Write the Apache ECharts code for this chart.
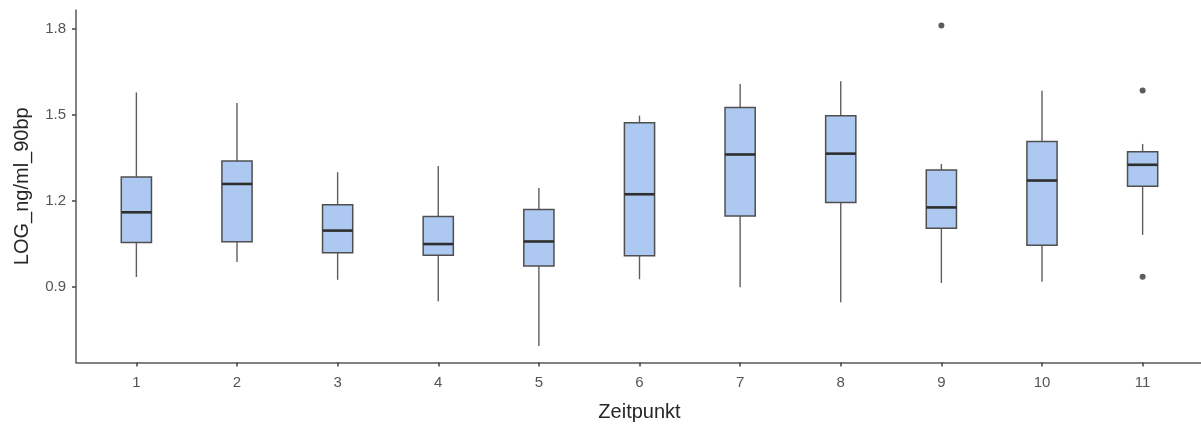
<!DOCTYPE html>
<html>
<head>
<meta charset="utf-8">
<script src="https://cdn.jsdelivr.net/npm/echarts@6/dist/echarts.min.js"></script>
<style>
  html, body { margin: 0; padding: 0; background: #fff; }
  #chart { width: 1201px; height: 424px; }
</style>
</head>
<body>
<div id="chart"></div>
<script>
// Zeitpunkte (x positions of the boxes)
const categories = ['1', '2', '3', '4', '5', '6', '7', '8', '9', '10', '11'];
const positions = [1, 2, 3, 4, 5, 6, 7, 8, 9, 10, 11];

// Box statistics per Zeitpunkt
const whiskerLow  = [0.933, 0.985, 0.923, 0.848, 0.692, 0.925, 0.897, 0.845, 0.912, 0.916, 1.080];
const q1          = [1.053, 1.056, 1.018, 1.009, 0.971, 1.007, 1.146, 1.193, 1.103, 1.044, 1.250];
const median      = [1.159, 1.258, 1.095, 1.048, 1.057, 1.222, 1.361, 1.364, 1.176, 1.270, 1.325];
const q3          = [1.282, 1.338, 1.185, 1.144, 1.169, 1.472, 1.525, 1.496, 1.307, 1.406, 1.371];
const whiskerHigh = [1.578, 1.541, 1.299, 1.321, 1.244, 1.497, 1.607, 1.617, 1.328, 1.584, 1.398];

// Outliers: [Zeitpunkt, value]
const outliers = [[9, 1.812], [11, 1.585], [11, 0.934]];

// Axis ticks
const yTicks = [0.9, 1.2, 1.5, 1.8];
const yRange = [0.634, 1.866];
const xRange = [0.4, 11.6];

const boxData = positions.map((p, i) => [p, whiskerLow[i], q1[i], median[i], q3[i], whiskerHigh[i]]);

const FONT = '"Liberation Sans", Arial, sans-serif';
const BOX_WIDTH = 0.3;

function renderBox(params, api) {
  const x = api.value(0);
  const lo = api.coord([x, api.value(1)]);
  const b1 = api.coord([x, api.value(2)]);
  const md = api.coord([x, api.value(3)]);
  const b3 = api.coord([x, api.value(4)]);
  const hi = api.coord([x, api.value(5)]);
  const half = api.size([BOX_WIDTH, 0])[0] / 2;
  const cx = lo[0];
  const whiskerStyle = { stroke: '#5e5e5e', lineWidth: 1.4 };
  return {
    type: 'group',
    children: [
      { type: 'line', shape: { x1: cx, y1: hi[1], x2: cx, y2: b3[1] }, style: whiskerStyle },
      { type: 'line', shape: { x1: cx, y1: b1[1], x2: cx, y2: lo[1] }, style: whiskerStyle },
      {
        type: 'rect',
        shape: { x: cx - half, y: b3[1], width: half * 2, height: b1[1] - b3[1] },
        style: { fill: '#aec9f1', stroke: '#4f4f4f', lineWidth: 1.5 }
      },
      {
        type: 'line',
        shape: { x1: cx - half, y1: md[1], x2: cx + half, y2: md[1] },
        style: { stroke: '#2e2e2e', lineWidth: 2.6 }
      }
    ]
  };
}

const chart = echarts.init(document.getElementById('chart'), null, { renderer: 'canvas' });
chart.setOption({
  animation: false,
  backgroundColor: '#ffffff',
  grid: { left: 76, top: 10, width: 1127, height: 352.5, containLabel: false, outerBoundsMode: 'none' },
  xAxis: {
    type: 'value',
    min: xRange[0],
    max: xRange[1],
    name: 'Zeitpunkt',
    nameLocation: 'middle',
    nameGap: 40,
    nameTextStyle: { fontFamily: FONT, fontSize: 20, color: '#262626' },
    splitLine: { show: false },
    axisLine: { show: true, lineStyle: { color: '#5a5a5a', width: 1.5 } },
    axisTick: { show: true, length: 4, customValues: positions, lineStyle: { color: '#444', width: 1.5 } },
    axisLabel: {
      customValues: positions,
      formatter: v => categories[positions.indexOf(Math.round(v))] || '',
      margin: 13,
      fontFamily: FONT,
      fontSize: 15,
      color: '#555555'
    }
  },
  yAxis: {
    type: 'value',
    min: yRange[0],
    max: yRange[1],
    name: 'LOG_ng/ml_90bp',
    nameLocation: 'middle',
    nameGap: 44,
    nameTextStyle: { fontFamily: FONT, fontSize: 20, color: '#262626' },
    splitLine: { show: false },
    axisLine: { show: true, lineStyle: { color: '#5a5a5a', width: 1.5 } },
    axisTick: { show: true, length: 4, customValues: yTicks, lineStyle: { color: '#444', width: 1.5 } },
    axisLabel: {
      customValues: yTicks,
      formatter: v => v.toFixed(1),
      margin: 10,
      fontFamily: FONT,
      fontSize: 15,
      color: '#555555'
    }
  },
  series: [
    {
      type: 'custom',
      renderItem: renderBox,
      data: boxData,
      encode: { x: 0, y: [1, 2, 3, 4, 5] },
      clip: false
    },
    {
      type: 'scatter',
      data: outliers,
      symbol: 'circle',
      symbolSize: 6,
      itemStyle: { color: '#333333' }
    }
  ]
});
</script>
</body>
</html>
